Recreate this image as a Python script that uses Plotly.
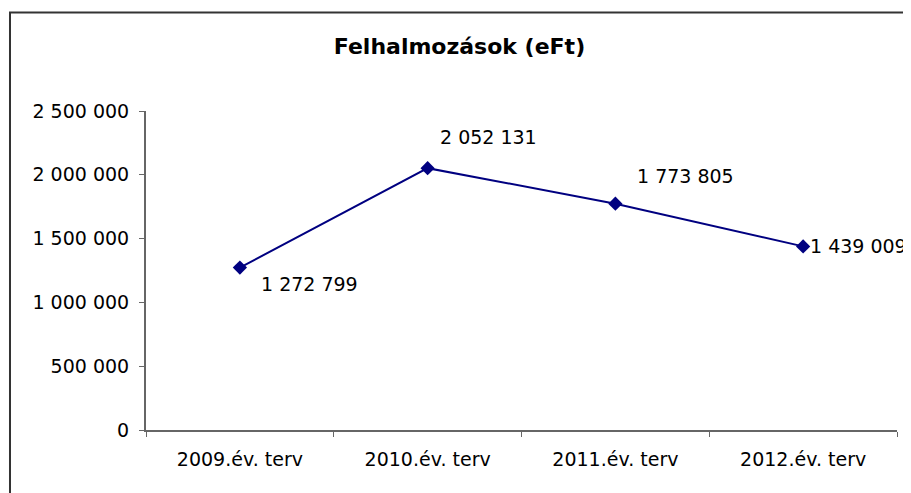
import plotly.graph_objects as go

categories = ["2009.év. terv", "2010.év. terv", "2011.év. terv", "2012.év. terv"]
values = [1272799, 2052131, 1773805, 1439009]
y_ticks = [0, 500000, 1000000, 1500000, 2000000, 2500000]
title_text = "Felhalmozások (eFt)"

label_shifts = [(19, -16), (10, 31), (20, 28), (5, 0)]

def fmt(v):
    return f"{v:,}".replace(",", " ")

fig = go.Figure()
fig.add_trace(go.Scatter(
    x=categories, y=values, mode="lines+markers",
    line=dict(color="#000080", width=2),
    marker=dict(symbol="diamond", size=11, color="#000080"),
    showlegend=False, hoverinfo="skip",
))

for c, v, (dx, dy) in zip(categories, values, label_shifts):
    fig.add_annotation(x=c, y=v, text=fmt(v), showarrow=False,
                       xanchor="left", yanchor="middle", xshift=dx, yshift=dy,
                       font=dict(family="DejaVu Sans", size=19, color="#000000"))

fig.add_shape(type="rect", xref="paper", yref="paper",
              x0=-0.1811, x1=1.04, y0=-0.25, y1=1.3088,
              line=dict(color="#333333", width=2), fillcolor="rgba(0,0,0,0)", layer="below")

fig.update_layout(
    width=903, height=485,
    margin=dict(l=138, r=14, t=103, b=63),
    paper_bgcolor="white", plot_bgcolor="white",
    separators=", ",
    title=dict(text=title_text, x=0.5, xanchor="center", y=1 - 38/485, yanchor="middle",
               font=dict(family="DejaVu Sans", size=22, color="#000000", weight="bold")),
    font=dict(family="DejaVu Sans", size=19, color="#000000"),
)
fig.update_xaxes(
    type="category", range=[-0.5, 3.5], showgrid=False, zeroline=False,
    showline=True, linecolor="#666666", linewidth=2,
    ticks="outside", tickson="boundaries", ticklen=5, tickcolor="#666666", tickwidth=1,
    tickfont=dict(family="DejaVu Sans", size=19, color="#000000"), ticklabelstandoff=11,
)
fig.update_yaxes(
    range=[0, 2500000], tickvals=y_ticks, tickformat=",d", showgrid=False, zeroline=False,
    showline=True, linecolor="#666666", linewidth=2,
    ticks="outside", ticklen=5, tickcolor="#666666", tickwidth=1,
    tickfont=dict(family="DejaVu Sans", size=19, color="#000000"), ticklabelstandoff=6,
)

fig.write_html("out.html")
